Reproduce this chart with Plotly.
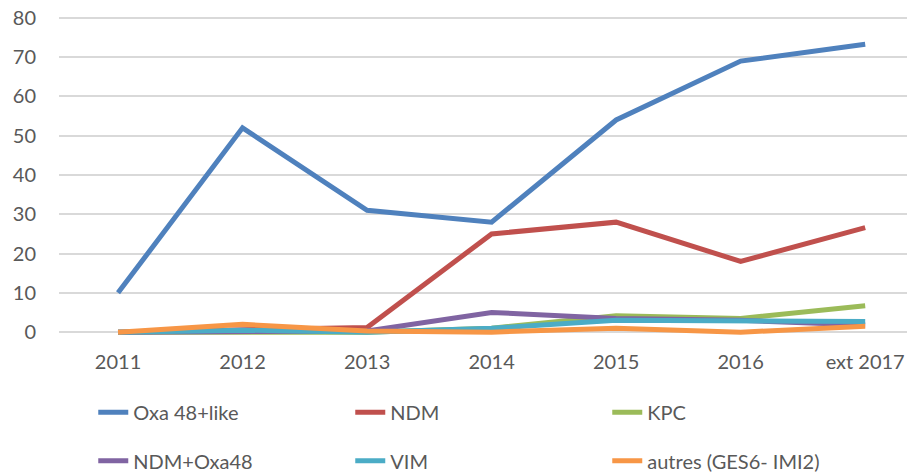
import plotly.graph_objects as go

categories = ["2011", "2012", "2013", "2014", "2015", "2016", "ext 2017"]
oxa48 = [10, 52, 31, 28, 54, 69, 73.3]
ndm = [0, 0.5, 1.2, 25, 28, 18, 26.6]
kpc = [0, 0, 0, 1, 4.2, 3.5, 6.7]
ndm_oxa48 = [0, 0.3, 0.3, 5, 3.5, 3, 1.8]
vim = [0, 0.5, 0, 1, 3, 3, 2.7]
autres = [0, 2, 0.3, 0, 1, 0, 1.5]

series = [
    ("Oxa 48+like", oxa48, "#4F81BD", "legend"),
    ("NDM", ndm, "#C0504D", "legend"),
    ("KPC", kpc, "#9BBB59", "legend"),
    ("NDM+Oxa48", ndm_oxa48, "#8064A2", "legend2"),
    ("VIM", vim, "#4BACC6", "legend2"),
    ("autres (GES6- IMI2)", autres, "#F79646", "legend2"),
]

font = dict(family="Lato, Open Sans, sans-serif", size=20, color="#595959")

fig = go.Figure()
for name, vals, color, lg in series:
    fig.add_trace(go.Scatter(
        x=list(range(len(categories))), y=vals, name=name, mode="lines",
        line=dict(color=color, width=5), legend=lg,
    ))

legend_common = dict(orientation="h", xanchor="left", yanchor="middle",
                     xref="container", yref="container",
                     entrywidth=212, entrywidthmode="pixels", font=font,
                     bgcolor="rgba(0,0,0,0)", itemwidth=30)

fig.update_layout(
    width=907, height=464,
    margin=dict(l=51, r=0, t=2, b=132, autoexpand=False),
    paper_bgcolor="white", plot_bgcolor="white",
    font=font,
    xaxis=dict(
        range=[-0.474, 6.40], tickmode="array",
        tickvals=list(range(len(categories))), ticktext=categories,
        showgrid=False, zeroline=False, showline=False, ticks="",
        ticklabelstandoff=8, tickfont=font, automargin=False,
        ticklabeloverflow="allow",
    ),
    yaxis=dict(
        range=[-2, 82], tickvals=[0, 10, 20, 30, 40, 50, 60, 70, 80],
        showgrid=True, gridcolor="#D9D9D9", gridwidth=1.5,
        zeroline=True, zerolinecolor="#D9D9D9", zerolinewidth=1.5,
        showline=False, ticks="", ticklabelstandoff=22, tickfont=font,
        automargin=False, ticklabeloverflow="allow",
    ),
    legend=dict(x=0.094, y=0.129, **legend_common),
    legend2=dict(x=0.094, y=0.024, **legend_common),
    showlegend=True,
)

fig.write_html("out.html")
